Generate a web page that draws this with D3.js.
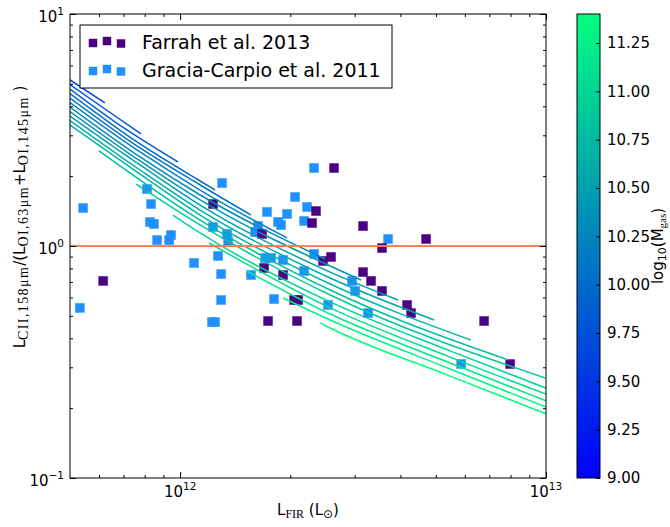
<!DOCTYPE html>
<html>
<head>
<meta charset="utf-8">
<script src="https://cdn.jsdelivr.net/npm/d3@7"></script>
<style>
body { margin: 0; background: #fff; }
text { font-family: "DejaVu Sans", sans-serif; fill: #000; }
.sub { font-family: "Liberation Serif", "DejaVu Serif", serif; }
</style>
</head>
<body>
<div id="chart"></div>
<script>
// L_FIR in units of 1e12 Lsun, ratio = L_CII / (L_OI63 + L_OI145)
var farrahL = [0.616,1.230,1.675,1.696,1.739,1.911,2.048,2.101,2.087,2.294,2.352,2.458,2.585,2.634,3.162,3.162,3.325,3.563,3.563,4.172,4.278,4.702,6.773,7.98];
var farrahR = [0.707,1.517,1.127,0.804,0.475,0.750,0.585,0.585,0.475,1.256,1.415,0.862,0.897,2.169,1.219,0.772,0.707,0.980,0.640,0.557,0.514,1.072,0.475,0.310];

var graciaL = [0.532,0.543,0.812,0.827,0.833,0.848,0.865,0.933,0.944,1.091,1.222,1.246,1.230,1.269,1.294,1.294,1.302,1.343,1.352,1.562,1.603,1.633,1.707,1.772,1.728,1.806,1.852,1.887,1.911,1.960,2.061,2.182,2.182,2.223,2.323,2.323,2.537,2.951,3.007,3.264,3.701,5.861];
var graciaR = [0.541,1.458,1.761,1.269,1.517,1.244,1.061,1.061,1.115,0.845,0.470,0.470,1.207,0.906,0.757,0.585,1.869,1.127,1.051,0.750,1.149,1.219,0.888,0.888,1.402,0.591,1.269,1.232,0.870,1.374,1.626,1.282,0.780,1.473,2.169,0.924,0.557,0.707,0.640,0.514,1.072,0.310];

// model tracks, one per gas mass (log10 Mgas), points are [L_FIR/1e12, ratio]
var gasMass = [9.7,9.8,9.9,10.0,10.1,10.2,10.3,10.4,10.5,10.6,10.7,10.8,10.9,11.0,11.1,11.2,11.3,11.4];
var tracks = [
  [[0.5,5.195],[0.623,4.135]],
  [[0.5,4.967],[0.623,3.895],[0.782,3.040]],
  [[0.5,4.750],[0.702,3.227],[0.987,2.302]],
  [[0.5,4.543],[0.777,2.753],[1.134,1.906],[1.246,1.743]],
  [[0.5,4.344],[0.777,2.645],[1.134,1.832],[1.562,1.360]],
  [[0.5,4.155],[0.777,2.543],[1.134,1.743],[1.960,1.083]],
  [[0.5,3.973],[0.777,2.419],[1.134,1.659],[2.490,0.879]],
  [[0.5,3.800],[0.777,2.325],[1.134,1.579],[2.570,0.820],[3.123,0.714]],
  [[0.5,3.634],[0.777,2.235],[1.134,1.502],[2.570,0.772],[3.942,0.585]],
  [[0.5,3.475],[0.777,2.126],[1.134,1.429],[2.570,0.728],[4.944,0.480]],
  [[0.5,3.324],[0.777,2.043],[1.134,1.360],[2.570,0.686],[6.240,0.393]],
  [[0.600,2.568],[0.777,1.925],[1.134,1.294],[2.570,0.646],[7.877,0.323]],
  [[0.758,1.850],[1.134,1.232],[2.570,0.615],[9.943,0.270]],
  [[0.956,1.360],[1.134,1.138],[2.570,0.574],[5.468,0.353],[10,0.244]],
  [[1.200,1.030],[2.570,0.541],[5.468,0.332],[10,0.230]],
  [[1.523,0.780],[2.570,0.509],[5.468,0.313],[10,0.215]],
  [[1.911,0.597],[2.570,0.480],[5.468,0.295],[10,0.202]],
  [[2.413,0.466],[2.570,0.443],[5.468,0.275],[10,0.189]]
];

var xMajor = [1, 10];
var xMajorExp = ['12', '13'];
var yMajor = [0.1, 1, 10];
var yMajorExp = ['\u22121', '0', '1'];
var cbTicks = [9.00, 9.25, 9.50, 9.75, 10.00, 10.25, 10.50, 10.75, 11.00, 11.25];
var refRatio = 1;

var W = 670, H = 527;
var L = 70, R = 546, T = 14, B = 478;

var svg = d3.select('#chart').append('svg')
    .attr('width', W).attr('height', H);

var x = d3.scaleLog().domain([0.5, 10]).range([L, R]);
var y = d3.scaleLog().domain([0.1, 10]).range([B, T]);
var cScale = d3.scaleLinear().domain([9, 11.4]).range([B, T]);

// matplotlib "winter" colormap
function winter(v) {
  var t = (v - 9) / 2.4;
  return d3.rgb(0, Math.round(255 * t), Math.round(255 * (1 - 0.5 * t))).toString();
}

svg.append('clipPath').attr('id', 'plotclip')
  .append('rect').attr('x', L).attr('y', T).attr('width', R - L).attr('height', B - T);

var plot = svg.append('g').attr('clip-path', 'url(#plotclip)');

// scatter points
function drawSquares(xs, ys, col) {
  plot.append('g').selectAll('rect')
    .data(xs.map(function(d, i) { return [d, ys[i]]; }))
    .enter().append('rect')
    .attr('x', function(d) { return x(d[0]) - 4.5; })
    .attr('y', function(d) { return y(d[1]) - 4.5; })
    .attr('width', 9).attr('height', 9)
    .attr('fill', col)
    .attr('stroke', col).attr('stroke-opacity', 0.45).attr('stroke-width', 1);
}
drawSquares(graciaL, graciaR, '#1e90ff');
drawSquares(farrahL, farrahR, '#4b0082');

// model tracks
var line = d3.line()
  .x(function(d) { return x(d[0]); })
  .y(function(d) { return y(d[1]); })
  .curve(d3.curveMonotoneX);

plot.append('g').selectAll('path')
  .data(tracks)
  .enter().append('path')
  .attr('d', line)
  .attr('fill', 'none')
  .attr('stroke', function(d, i) { return winter(gasMass[i]); })
  .attr('stroke-width', 1.5);

plot.append('line')
  .attr('x1', L).attr('x2', R)
  .attr('y1', y(refRatio)).attr('y2', y(refRatio))
  .attr('stroke', '#ff7f50').attr('stroke-width', 2);

// ticks (inward, all four sides)
var xMinor = [0.6,0.7,0.8,0.9,2,3,4,5,6,7,8,9];
var yMinor = [0.2,0.3,0.4,0.5,0.6,0.7,0.8,0.9,2,3,4,5,6,7,8,9];
function tickAxis(axis, vals, size, tr) {
  var g = svg.append('g').attr('transform', tr)
    .call(axis.tickValues(vals).tickSize(-size).tickFormat(''));
  g.select('.domain').remove();
  g.selectAll('line').attr('stroke', '#000');
}
tickAxis(d3.axisBottom(x), xMajor, 6, 'translate(0,' + B + ')');
tickAxis(d3.axisBottom(x), xMinor, 3, 'translate(0,' + B + ')');
tickAxis(d3.axisTop(x), xMajor, 6, 'translate(0,' + T + ')');
tickAxis(d3.axisTop(x), xMinor, 3, 'translate(0,' + T + ')');
tickAxis(d3.axisLeft(y), yMajor, 6, 'translate(' + L + ',0)');
tickAxis(d3.axisLeft(y), yMinor, 3, 'translate(' + L + ',0)');
tickAxis(d3.axisRight(y), yMajor, 6, 'translate(' + R + ',0)');
tickAxis(d3.axisRight(y), yMinor, 3, 'translate(' + R + ',0)');

svg.append('rect')
  .attr('x', L).attr('y', T).attr('width', R - L).attr('height', B - T)
  .attr('fill', 'none').attr('stroke', '#000').attr('stroke-width', 1);

// tick labels 10^n
function powLabel(xp, yp, exp, anchor) {
  var t = svg.append('text').attr('x', xp).attr('y', yp)
    .attr('text-anchor', anchor).style('font-size', '15px');
  t.append('tspan').text('10');
  t.append('tspan').attr('dy', -7).style('font-size', '10.5px').text(exp);
}
xMajor.forEach(function(v, i) { powLabel(x(v), 497, xMajorExp[i], 'middle'); });
yMajor.forEach(function(v, i) { powLabel(64, y(v) + 8, yMajorExp[i], 'end'); });

// axis labels
var xl = svg.append('text').attr('x', 308).attr('y', 515)
  .attr('text-anchor', 'middle').style('font-size', '15px');
xl.append('tspan').text('L');
xl.append('tspan').attr('class', 'sub').attr('dy', 3).style('font-size', '12px').text('FIR');
xl.append('tspan').attr('dy', -3).text(' (L');
xl.append('tspan').attr('dy', 3).style('font-size', '12px').text('\u2299');
xl.append('tspan').attr('dy', -3).text(')');

var yl = svg.append('text')
  .attr('transform', 'translate(25,217) rotate(-90)')
  .attr('text-anchor', 'middle').style('font-size', '15px');
function ySub(txt) {
  yl.append('tspan').attr('class', 'sub').attr('dy', 3)
    .style('font-size', '14px').style('letter-spacing', '1.4px').text(txt);
}
yl.append('tspan').text('L');
ySub('CII,158\u03bcm');
yl.append('tspan').attr('dy', -3).text('/(L');
ySub('OI,63\u03bcm');
yl.append('tspan').attr('dy', -3).text('+L');
ySub('OI,145\u03bcm');
yl.append('tspan').attr('dy', -3).text(' )');

// legend
var lg = svg.append('g');
lg.append('rect').attr('x', 80).attr('y', 25).attr('width', 312).attr('height', 63)
  .attr('fill', '#fff').attr('stroke', '#000').attr('stroke-width', 1);
var legendItems = [
  {label: 'Farrah et al. 2013', color: '#4b0082', y: 42},
  {label: 'Gracia-Carpio et al. 2011', color: '#1e90ff', y: 70}
];
var markerDx = [93, 107, 121];
var markerDy = [1, -1, 1.5];
legendItems.forEach(function(it) {
  markerDx.forEach(function(mx, j) {
    lg.append('rect')
      .attr('x', mx - 4).attr('y', it.y + markerDy[j] - 4)
      .attr('width', 8).attr('height', 8)
      .attr('fill', it.color)
      .attr('stroke', it.color).attr('stroke-opacity', 0.45).attr('stroke-width', 1);
  });
  lg.append('text').attr('x', 142).attr('y', it.y + 7)
    .style('font-size', '19px').text(it.label);
});

// colorbar
var cbX = 577, cbW = 23;
var grad = svg.append('defs').append('linearGradient').attr('id', 'cbgrad')
  .attr('x1', 0).attr('y1', 1).attr('x2', 0).attr('y2', 0);
grad.append('stop').attr('offset', '0%').attr('stop-color', winter(9));
grad.append('stop').attr('offset', '100%').attr('stop-color', winter(11.4));
svg.append('rect').attr('x', cbX).attr('y', T).attr('width', cbW).attr('height', B - T)
  .attr('fill', 'url(#cbgrad)').attr('stroke', '#000').attr('stroke-width', 1);
var cbAxis = svg.append('g').attr('transform', 'translate(' + (cbX + cbW) + ',0)')
  .call(d3.axisRight(cScale).tickValues(cbTicks).tickSize(-4).tickPadding(7)
    .tickFormat(d3.format('.2f')));
cbAxis.select('.domain').remove();
cbAxis.selectAll('line').attr('stroke', '#000');
cbAxis.selectAll('text').style('font-size', '15px')
  .style('font-family', '"DejaVu Sans", sans-serif');

var cl = svg.append('text')
  .attr('transform', 'translate(663,246) rotate(-90)')
  .attr('text-anchor', 'middle').style('font-size', '15px');
cl.append('tspan').text('log');
cl.append('tspan').attr('dy', 3).style('font-size', '11px').text('10');
cl.append('tspan').attr('dy', -3).text('(M');
cl.append('tspan').attr('class', 'sub').attr('dy', 3).style('font-size', '11px').text('gas');
cl.append('tspan').attr('dy', -3).text(')');
</script>
</body>
</html>
